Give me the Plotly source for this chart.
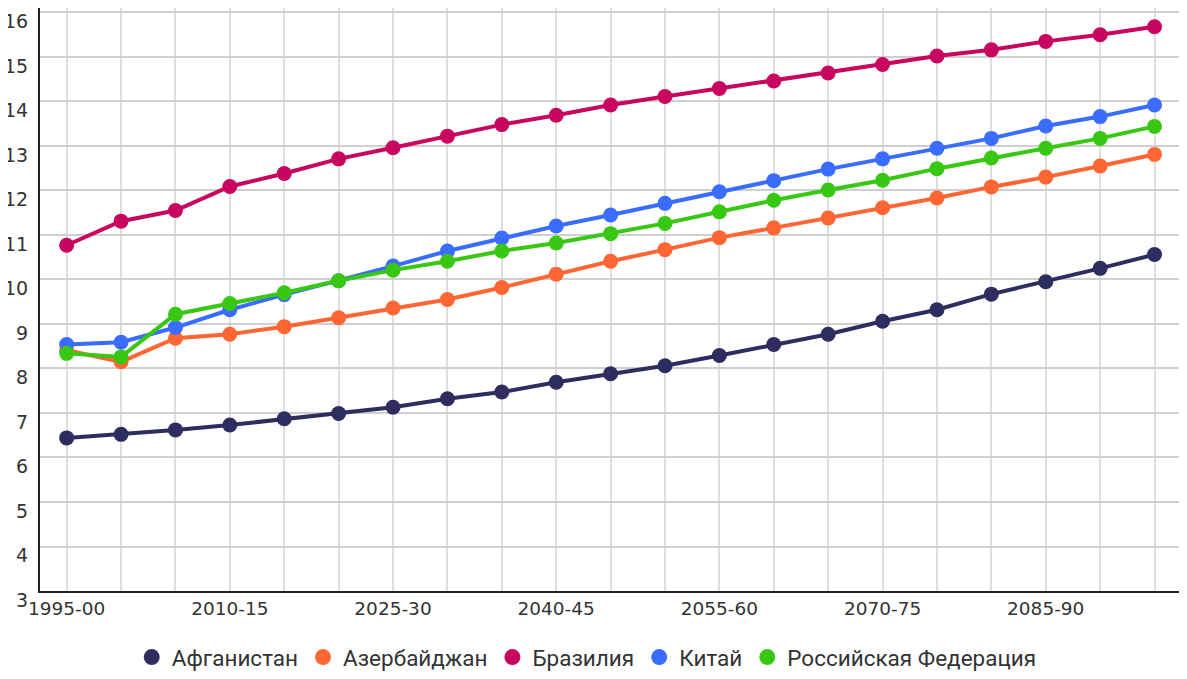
import plotly.graph_objects as go

periods = ["1995-00", "2000-05", "2005-10", "2010-15", "2015-20", "2020-25", "2025-30",
           "2030-35", "2035-40", "2040-45", "2045-50", "2050-55", "2055-60", "2060-65",
           "2065-70", "2070-75", "2075-80", "2080-85", "2085-90", "2090-95", "2095-00"]
tick_labels = ["1995-00", "2010-15", "2025-30", "2040-45", "2055-60", "2070-75", "2085-90"]

afghanistan = [6.44, 6.52, 6.62, 6.73, 6.87, 6.99, 7.13, 7.32, 7.47, 7.69, 7.88, 8.06,
               8.29, 8.54, 8.77, 9.06, 9.32, 9.67, 9.95, 10.25, 10.56]
azerbaijan = [8.41, 8.15, 8.68, 8.77, 8.94, 9.14, 9.36, 9.55, 9.82, 10.12, 10.41, 10.67,
              10.94, 11.16, 11.38, 11.61, 11.83, 12.08, 12.30, 12.55, 12.81]
brazil = [10.77, 11.31, 11.55, 12.09, 12.38, 12.71, 12.96, 13.22, 13.48, 13.69, 13.92, 14.11,
          14.29, 14.46, 14.64, 14.83, 15.02, 15.16, 15.35, 15.50, 15.68]
china = [8.54, 8.59, 8.92, 9.32, 9.66, 9.97, 10.30, 10.64, 10.93, 11.20, 11.45, 11.71,
         11.97, 12.22, 12.48, 12.71, 12.95, 13.17, 13.45, 13.66, 13.92]
russia = [8.34, 8.26, 9.22, 9.46, 9.70, 9.97, 10.21, 10.41, 10.64, 10.82, 11.03, 11.26,
          11.52, 11.78, 12.01, 12.23, 12.49, 12.73, 12.95, 13.17, 13.44]

series = [
    ("Афганистан", afghanistan, "#2e2d5f"),
    ("Азербайджан", azerbaijan, "#ff6633"),
    ("Бразилия", brazil, "#c9065f"),
    ("Китай", china, "#3a6cff"),
    ("Российская Федерация", russia, "#38c814"),
]

fig = go.Figure()
for name, vals, color in series:
    fig.add_trace(go.Scatter(
        x=periods, y=vals, name=name, mode="lines+markers",
        line=dict(color=color, width=4),
        marker=dict(color=color, size=15),
        legendgroup=name, showlegend=False,
    ))
# legend entries (marker only, as in the reference)
for name, vals, color in series:
    fig.add_trace(go.Scatter(
        x=[None], y=[None], name=name, mode="markers",
        marker=dict(color=color, size=17),
        legendgroup=name, showlegend=True,
    ))

fig.update_layout(
    width=1171, height=671,
    margin=dict(l=32, r=0, t=0, b=83),
    paper_bgcolor="white", plot_bgcolor="white",
    font=dict(family="DejaVu Sans", size=18, color="#333333"),
    showlegend=True,
    legend=dict(orientation="h", xref="paper", x=0.48, xanchor="center",
                yref="paper", y=-0.114, yanchor="middle",
                font=dict(family="Roboto", size=22.5, color="#333333"),
                itemsizing="trace", traceorder="normal", itemwidth=30),
)
fig.update_xaxes(
    type="category", categoryorder="array", categoryarray=periods,
    range=[-0.49, 20.45], automargin=False,
    tickmode="array", tickvals=periods,
    ticktext=[p if p in tick_labels else "" for p in periods],
    showgrid=True, gridcolor="#dedede", gridwidth=2,
    showline=True, linecolor="#222222", linewidth=2,
    ticks="", zeroline=False,
    tickfont=dict(family="DejaVu Sans", size=18.5, color="#333333"),
)
fig.update_yaxes(
    range=[3, 16.1], dtick=1, tick0=3, automargin=False,
    showgrid=True, gridcolor="#cfcfcf", gridwidth=1.5,
    showline=True, linecolor="#222222", linewidth=2,
    ticks="", zeroline=False, ticklabelshift=9, ticklabelstandoff=6,
    ticklabeloverflow="allow",
    tickfont=dict(family="DejaVu Sans", size=19, color="#333333"),
)

fig.write_html("out.html")
